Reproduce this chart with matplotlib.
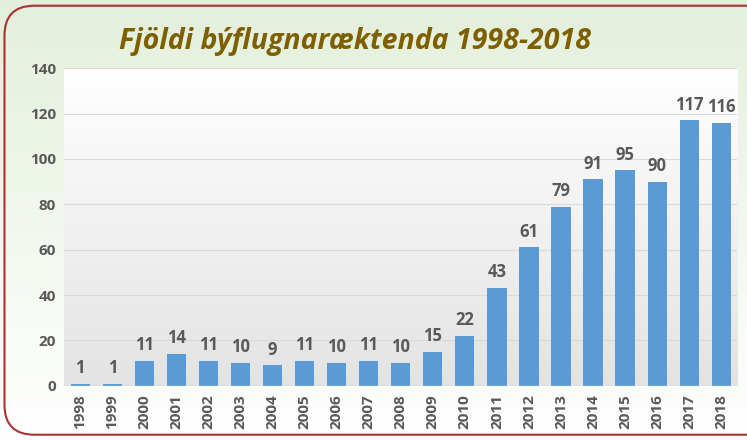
import numpy as np
import matplotlib
matplotlib.use("Agg")
import matplotlib.pyplot as plt
from matplotlib.patches import FancyBboxPatch

years = [str(y) for y in range(1998, 2019)]
values = [1, 1, 11, 14, 11, 10, 9, 11, 10, 11, 10, 15, 22, 43, 61, 79, 91, 95, 90, 117, 116]
yticks = [0, 20, 40, 60, 80, 100, 120, 140]
title = "Fjöldi býflugnaræktenda 1998-2018"

plt.rcParams['font.family'] = ['Open Sans', 'DejaVu Sans']

fig = plt.figure(figsize=(7.47, 4.4), dpi=100)

# figure background gradient (light green -> white)
bg = fig.add_axes([0, 0, 1, 1], zorder=-10)
grad = np.linspace(0, 1, 256)[:, None]
top = np.array([0.89, 0.94, 0.86])
bot = np.array([1.0, 1.0, 1.0])
img = top[None, None, :] * (1 - grad[:, :, None]) + bot[None, None, :] * grad[:, :, None]
bg.imshow(img, aspect='auto', extent=[0, 1, 0, 1], origin='upper')
bg.set_xlim(0, 1); bg.set_ylim(0, 1)
bg.axis('off')
bg.add_patch(FancyBboxPatch((0.006, 0.012), 1.2, 0.975,
                            boxstyle="round,pad=0,rounding_size=0.04",
                            fill=False, edgecolor='#A83232', linewidth=1.5,
                            transform=bg.transAxes, mutation_aspect=747/440))

ax = fig.add_axes([0.086, 0.123, 0.901, 0.722])
# plot area gradient (white -> light gray)
g2 = np.linspace(0, 1, 256)[:, None]
ptop = np.array([1.0, 1.0, 1.0])
pbot = np.array([0.89, 0.89, 0.89])
pimg = ptop[None, None, :] * (1 - g2[:, :, None]) + pbot[None, None, :] * g2[:, :, None]
ax.imshow(pimg, aspect='auto', extent=[-0.5, 20.5, 0, 140], origin='upper', zorder=0)

x = np.arange(len(years))
ax.bar(x, values, width=0.6, color='#5B9BD5', zorder=3)
for xi, v in zip(x, values):
    ax.text(xi, v + 3, str(v), ha='center', va='bottom', fontsize=12,
            fontweight='bold', color='#595959', zorder=4)

ax.set_xlim(-0.5, 20.5)
ax.set_ylim(0, 140)
ax.set_yticks(yticks)
ax.set_yticklabels([str(t) for t in yticks], fontsize=11, fontweight='bold', color='#595959')
ax.set_xticks(x)
ax.set_xticklabels(years, rotation=90, fontsize=11, fontweight='bold', color='#595959')
for t in yticks[1:]:
    ax.axhline(t, color='#D9D9D9', linewidth=0.8, zorder=1)
ax.axhline(0, color='#D9D9D9', linewidth=1.0, zorder=5)
for s in ax.spines.values():
    s.set_visible(False)
ax.tick_params(length=0, pad=6)

fig.text(0.475, 0.905, title, ha='center', va='center', fontsize=20.5,
         fontweight='bold', fontstyle='italic', color='#7F6000')

fig.savefig('out.png', dpi=100)
